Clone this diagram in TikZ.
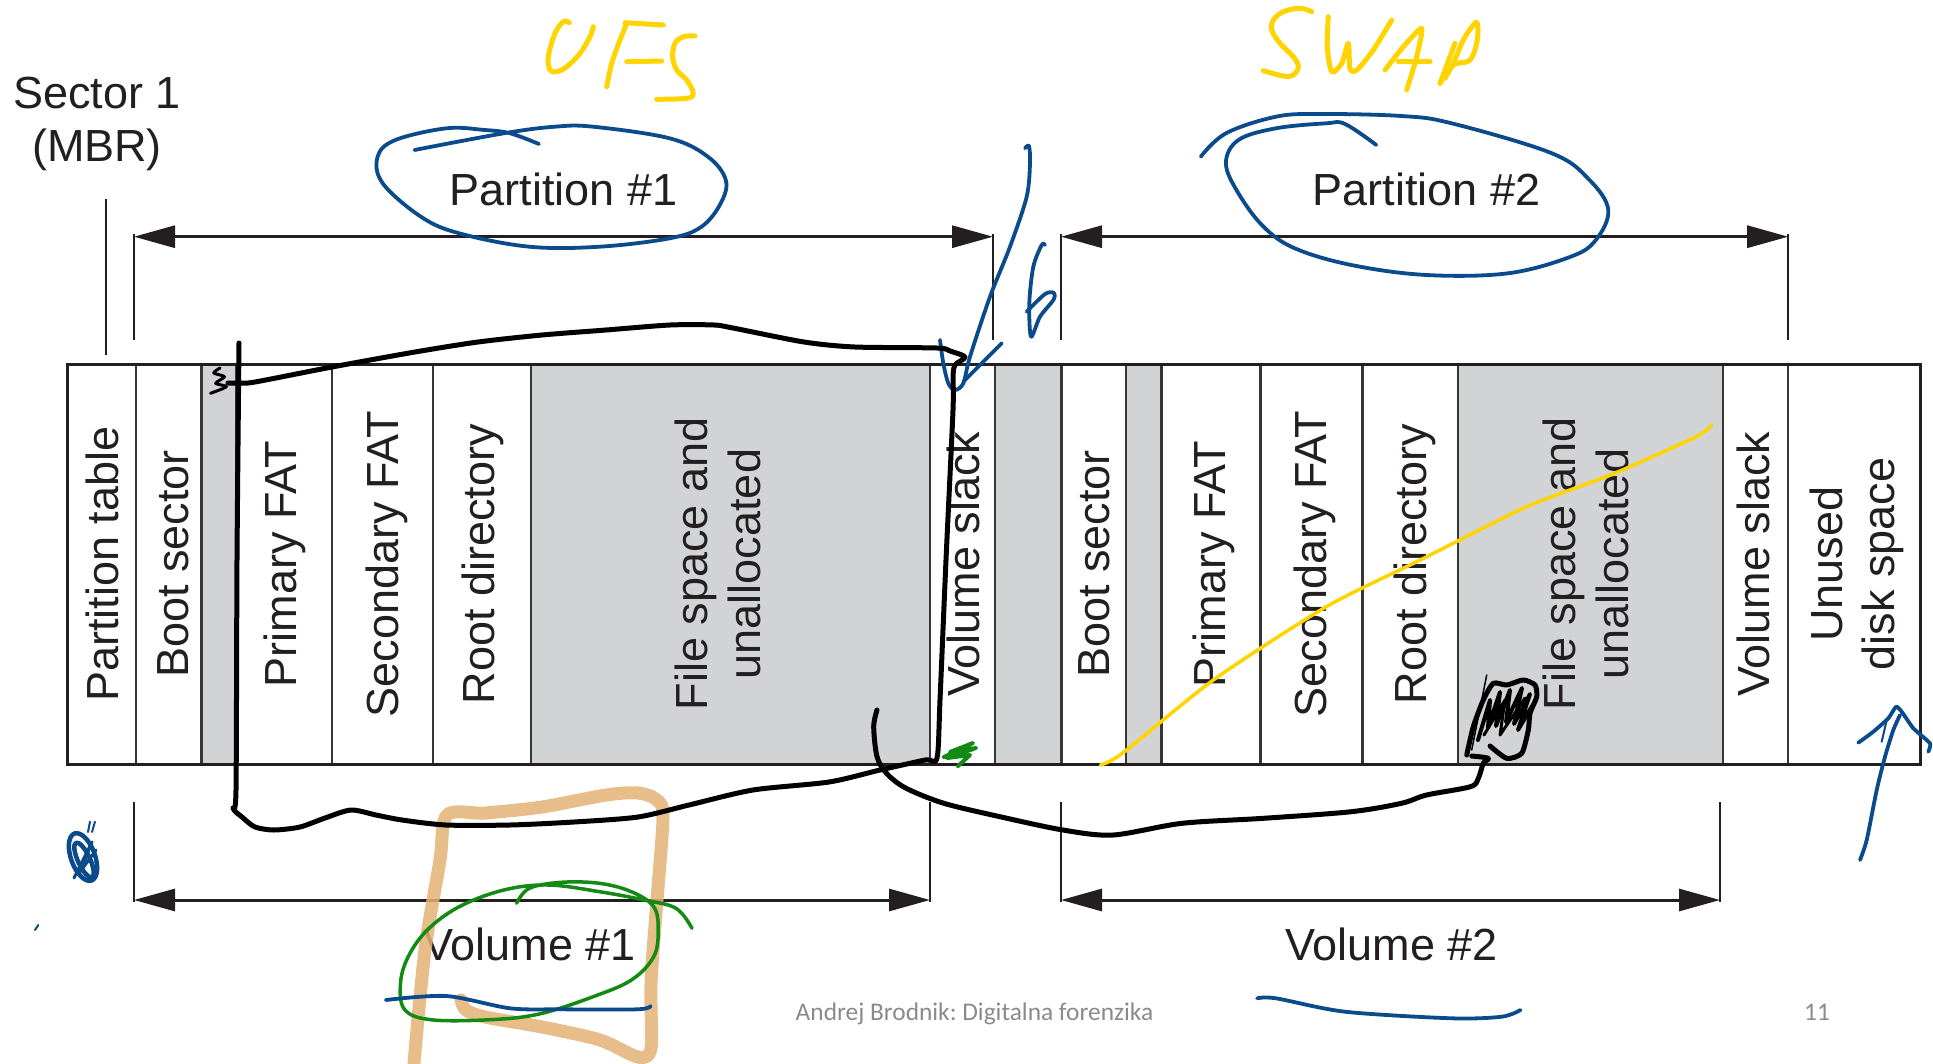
\documentclass[tikz,border=0pt]{standalone}
\usepackage{fontspec}
\setmainfont{Liberation Sans}
\newfontfamily\footfont{Carlito}
\usetikzlibrary{arrows.meta}
\frenchspacing

\definecolor{ink}{HTML}{231F20}
\definecolor{cellgray}{HTML}{D1D3D4}
\definecolor{penyellow}{HTML}{FFD400}
\definecolor{penblue}{HTML}{0B4A8B}
\definecolor{pengreen}{HTML}{138A13}
\definecolor{pentan}{HTML}{E3B274}
\definecolor{footgray}{HTML}{8A8A8A}

% two centred lines; the box baseline is the baseline of the second line
\newcommand{\twolines}[3][52.5pt]{\vbox{\baselineskip=#1\relax\lineskiplimit=-100pt\halign{\hfil##\hfil\cr #2\cr #3\cr}}}

\tikzset{
  lbl/.style={font=\fontsize{45}{54}\selectfont, text=ink, inner sep=0pt},
  celltext/.style={lbl, rotate=90, anchor=base},
  dimline/.style={draw=ink, line width=3pt,
    {Triangle[length=41pt,width=22pt]}-{Triangle[length=41pt,width=22pt]}},
  extline/.style={draw=ink, line width=2pt},
  cellrule/.style={draw=ink!90, line width=2.5pt},
  pen/.style={line cap=round, line join=round},
  yellowpen/.style={pen, draw=penyellow, line width=5pt},
  bluepen/.style={pen, draw=penblue, line width=3.8pt},
  blackpen/.style={pen, draw=black, line width=5pt},
  greenpen/.style={pen, draw=pengreen, line width=3.5pt},
  tanpen/.style={pen, draw=pentan, line width=13pt, opacity=0.85},
}

\begin{document}
\begin{tikzpicture}[x=1pt,y=-1pt]
\useasboundingbox (0,0) rectangle (1933,1063);

% ---------- disk layout bar ----------
\fill[white] (67,364) rectangle (1920.5,764);
\foreach \a/\b in {201.5/236, 531/930, 995/1061.6, 1126.2/1161.3, 1457.8/1723}
  \fill[cellgray] (\a,364) rectangle (\b,764);
\foreach \x in {136,201.5,236,332,433,531,930,995,1061.6,1126.2,1161.3,1260.3,1362.5,1457.8,1723,1788.2}
  \draw[cellrule] (\x,364) -- (\x,764);
\draw[ink, line width=3pt] (67,364) rectangle (1920.5,764);

% ---------- cell texts ----------
\node[celltext] (ptable) at (118,564) {Partition table};
\node[celltext] (boot1)  at (188,564) {Boot sector};
\node[celltext] (pfat1)  at (296.6,564) {Primary FAT};
\node[celltext] (sfat1)  at (398.6,564) {Secondary FAT};
\node[celltext] (root1)  at (494,564) {Root directory};
\node[celltext] (files1) at (760,564) {\twolines{File space and}{unallocated}};
\node[celltext] (slack1) at (979,564) {Volume slack};
\node[celltext] (boot2)  at (1109.9,564) {Boot sector};
\node[celltext] (pfat2)  at (1225.9,564) {Primary FAT};
\node[celltext] (sfat2)  at (1326.2,564) {Secondary FAT};
\node[celltext] (root2)  at (1426.5,564) {Root directory};
\node[celltext] (files2) at (1628.4,564) {\twolines{File space and}{unallocated}};
\node[celltext] (slack2) at (1769.4,564) {Volume slack};
\node[celltext] (unused) at (1894.8,564) {\twolines{Unused}{disk space}};

% ---------- labels ----------
\node[lbl, anchor=base] (sector) at (97,161.7) {\twolines[53.4pt]{Sector 1}{(MBR)}};
\node[lbl, anchor=base] (part1) at (563.5,205) {Partition \#1};
\node[lbl, anchor=base] (part2) at (1426.5,205) {Partition \#2};
\node[lbl, anchor=base] (vol1) at (529.5,960) {Volume \#1};
\node[lbl, anchor=base] (vol2) at (1391.4,960) {Volume \#2};

% ---------- dimension lines ----------
\coordinate (mbrtop) at (105.9,199);
\coordinate (mbrbot) at (105.9,355);
\draw[extline] (mbrtop) -- (mbrbot);

\coordinate (p1a) at (134,236.7);  \coordinate (p1b) at (993,236.7);
\coordinate (p2a) at (1061,236.7); \coordinate (p2b) at (1788.2,236.7);
\coordinate (v1a) at (134,900);    \coordinate (v1b) at (930,900);
\coordinate (v2a) at (1061,900);   \coordinate (v2b) at (1720,900);

\foreach \c in {p1a,p1b,p2a,p2b}
  \draw[extline] (\c) ++(0,-3) -- ++(0,106);
\foreach \c in {v1a,v1b,v2a,v2b}
  \draw[extline] (\c) ++(0,1.5) -- ++(0,-100);

\draw[dimline] (p1a) -- (p1b);
\draw[dimline] (p2a) -- (p2b);
\draw[dimline] (v1a) -- (v1b);
\draw[dimline] (v2a) -- (v2b);

% ---------- footer ----------
\node[font=\footfont\fontsize{25.4}{30}\selectfont, text=footgray, anchor=base, inner sep=0pt]
  (footer) at (974.5,1020) {Andrej Brodnik: Digitalna forenzika};
\node[font=\footfont\fontsize{25.4}{30}\selectfont, text=footgray, anchor=base, inner sep=0pt]
  (pageno) at (1817,1020) {11};

% ---------- pen annotations ----------
% tan highlighter box around the first volume label
\draw[tanpen] plot[smooth, tension=0.5] coordinates {
  (414,1063) (425,950) (440,860) (447,815) (485,813) (542,807) (606,795)
  (638,793) (657,800) (663,817) (657,900) (651,983) (651,1048) (638,1057)
  (600,1040) (542,1027) (485,1017) (466,1010) (461,1000)};

% handwritten UFS
\draw[yellowpen] plot[smooth, tension=0.6] coordinates {
  (569.3,22.7) (563.3,21.7) (555,33.3) (548.3,56.7) (550,70) (556.7,71.7)
  (566.7,66.7) (580,53.3) (590,36.7) (593.3,26.7)};
\draw[yellowpen] plot[smooth] coordinates {(626.7,23.3) (620,40) (611.7,63.3) (606.7,86.7)};
\draw[yellowpen] (625,22.7) -- (663.3,25);
\draw[yellowpen] (626.7,61.7) -- (661.7,61);
\draw[yellowpen] plot[smooth, tension=0.6] coordinates {
  (695,36) (683.3,36.7) (675,43.3) (672.7,56.7) (676.7,70) (686.7,80)
  (693.3,93.3) (686.7,98.3) (656.7,99.3)};

% handwritten SWAP
\draw[yellowpen] plot[smooth, tension=0.6] coordinates {
  (1311.7,11.7) (1300,8.3) (1283.3,11.7) (1273.3,20) (1271.7,30) (1280,43.3)
  (1293.3,56.7) (1298.3,66.7) (1293.3,75) (1283.3,76) (1263.3,70.7)};
\draw[yellowpen] plot[smooth, tension=0.5] coordinates {
  (1328.3,16.7) (1327.3,46.7) (1331.7,71.7) (1341.7,63.3) (1348.3,43.3)
  (1350,68.3) (1356.7,70) (1373.3,50) (1391.7,20)};
\draw[yellowpen] plot[smooth, tension=0.4] coordinates {
  (1385,70) (1403.3,46.7) (1421.7,28.3) (1416.7,56.7) (1406.7,90)};
\draw[yellowpen] (1398.3,61.7) -- (1430,61.7);
\draw[yellowpen] (1455,43.3) -- (1440,83.3);
\draw[yellowpen] plot[smooth, tension=0.6] coordinates {
  (1440,83.3) (1453.3,65) (1470,60) (1477.3,40) (1477.3,23.3) (1473.3,25)
  (1463.3,40) (1453.3,63.3) (1445,78.3)};

% blue loops round the partition labels
\draw[bluepen] plot[smooth, tension=0.6] coordinates {
  (414.5,150) (503.8,133.3) (554.8,126.7) (593.1,126.7) (669.6,138.3)
  (707.9,156.7) (725.8,180) (720.7,203.3) (701.5,226.7) (669.6,238.3)
  (599.5,246.7) (529.3,246.7) (459.2,233.3) (420.9,216.7) (382.7,183.3)
  (377.6,156.7) (395.4,140) (446.4,128.3) (484.7,130) (510.2,133.3) (538.9,144)};
\draw[bluepen] plot[smooth, tension=0.6] coordinates {
  (1200.8,156.7) (1225.9,133.3) (1276,116.7) (1319.9,114) (1401.4,116)
  (1451.6,123.3) (1551.9,153.3) (1589.5,180) (1608.3,210) (1595.8,240)
  (1570.7,256.7) (1508,273.3) (1426.5,275) (1351.3,265) (1294.8,248.3)
  (1263.5,226.7) (1238.4,193.3) (1225.9,163.3) (1238.4,140) (1276,128.3)
  (1326.2,123.3) (1345,124) (1376.3,145)};

% blue slash and mark near the first volume slack
\draw[bluepen] plot[smooth, tension=0.5] coordinates {
  (1025,148.3) (1029,146) (1030,163.3) (1026.7,196.7) (1010,246.7)
  (990,296.7) (970,356.7) (963.3,383.3) (955,390) (948.3,383.3)
  (943.3,363.3) (940,340)};
\draw[bluepen] (1001.7,343.3) -- (963.3,381.7);
\draw[bluepen] plot[smooth, tension=0.5] coordinates {
  (1045,245) (1041.7,245) (1033.3,266.7) (1029.3,303.3) (1031,336.7)
  (1040,316.7) (1053.3,300) (1054,293) (1045,294) (1026.7,311.7)};

% black loop round the first volume
\draw[blackpen] plot[smooth, tension=0.45] coordinates {
  (239,343) (237,560) (236,790) (233,808) (242,817) (255,827) (274,830)
  (300,827) (325,818) (351,810) (376,815) (402,820) (446,825) (510,825)
  (574,822) (638,817) (689,805) (753,790) (829,782) (880,770) (925,760)
  (937,758) (940,700) (946,560) (953,410) (953,377) (955,365) (965,357)
  (950,351) (937,348) (855,347) (804,342) (733,328) (714,325) (670,325)
  (606,330) (542,335) (478,342) (415,352) (332,367) (255,382) (239,383) (228,383)};
\draw[pen, black, line width=3pt] plot[smooth, tension=0.4] coordinates {
  (220,368) (213.7,373) (224.5,376.7) (215.6,383.3) (226.4,386.7) (210.5,393.3)};

% black line from the first file space to the scribbled block
\draw[blackpen] plot[smooth, tension=0.5] coordinates {
  (877,710) (873.7,726.7) (877,756.7) (886.5,773.3) (905.6,788) (943.9,803.3)
  (1000,816.7) (1062.9,830) (1113,835) (1182,823.3) (1263.5,818.3)
  (1351.3,811.7) (1401.4,803.3) (1426.5,795) (1470.4,786.7) (1478.3,778.3)
  (1483.3,763.3) (1488.3,758.3) (1471.7,756)};
\draw[blackpen] plot[smooth, tension=0.4] coordinates {
  (1466.7,755) (1473.3,726.7) (1483.3,700) (1493.3,683.3) (1506.7,685)
  (1523.3,680) (1535,685) (1536.7,696.7) (1530,713.3) (1528.3,730)
  (1521.7,753.3) (1506.7,758.3) (1490,746)};
\draw[pen, black, line width=4pt] (1478,740) -- (1490,700) -- (1488,728) -- (1500,692)
  -- (1496,726) -- (1510,690) -- (1506,722) -- (1522,688) -- (1514,724)
  -- (1530,694) -- (1518,730) -- (1532,706);
\draw[pen, black, line width=3pt] (1484,735) -- (1505,700) -- (1500,735) -- (1525,698);
\draw[pen, black, line width=1.5pt] (1486.7,675) -- (1471.7,750);

% yellow diagonal across the second partition
\draw[pen, draw=penyellow, line width=3.5pt] plot[smooth, tension=0.4] coordinates {
  (1100.5,765) (1122.4,753.3) (1213.3,680) (1326.2,606.7) (1420.2,560)
  (1526.8,506.7) (1614.6,473.3) (1696.1,436.7) (1711.8,425)};

% green scribble by the first volume slack
\draw[greenpen, line width=4pt] (944,757) -- (973,743) -- (950,752) -- (976,748)
  -- (947,758) -- (970,755) -- (958,766);

% green loop round the first volume label
\draw[greenpen] plot[smooth, tension=0.6] coordinates {
  (516.6,903.3) (529.3,888.3) (561.2,882.3) (599.5,883.3) (631.4,891.7)
  (653.7,906.7) (658.2,930) (653.7,956.7) (631.4,980) (593.1,996.7)
  (542.1,1013.3) (497.4,1019.3) (433.7,1020) (405,1010) (400.5,983.3)
  (408.2,956.7) (427.3,930) (459.2,906.7) (503.8,890) (548.5,885)
  (599.5,891.7) (644.1,900) (676,908.3) (692,928.3)};

% blue underlines
\draw[bluepen] plot[smooth, tension=0.5] coordinates {
  (385.8,1000) (446.4,996) (510.2,1008.3) (561.2,1009.3) (637.8,1009.3) (650.5,1006)};
\draw[bluepen] plot[smooth, tension=0.5] coordinates {
  (1257.2,998.3) (1276,998.3) (1345,1011.7) (1451.6,1018.3) (1501.7,1016.7) (1520.5,1010)};

% blue arrow pointing at the unused disk space
\draw[bluepen] plot[smooth, tension=0.4] coordinates {
  (1860,860) (1866.7,840) (1876.7,790) (1885,756.7) (1893.3,730) (1900,715)};
\draw[bluepen] plot[smooth, tension=0.3] coordinates {
  (1858.3,742.7) (1873.3,731.7) (1888.3,718.3) (1896,706.7) (1901.7,711.7)
  (1913.3,728.3) (1930,743.3) (1928.3,751.7)};
\draw[bluepen, line width=2pt] (1881.7,741.7) -- (1886.7,720);

% blue scribble at the lower left
\draw[pen, draw=penblue, line width=4.5pt, rotate around={20:(83,857)}]
  (83,857) ellipse [x radius=12pt, y radius=25pt];
\draw[pen, draw=penblue, line width=4.5pt, rotate around={25:(84,860)}]
  (84,860) ellipse [x radius=6pt, y radius=19pt];
\draw[pen, draw=penblue, line width=3pt] (74,878) -- (92,842) -- (80,872) -- (96,850);
\draw[pen, draw=penblue, line width=2pt] (88,832) -- (90,821.7);
\draw[pen, draw=penblue, line width=2pt] (92,832) -- (95,821.7);
\draw[pen, draw=penblue, line width=2pt] (35,930) -- (38.3,925);
\end{tikzpicture}
\end{document}
